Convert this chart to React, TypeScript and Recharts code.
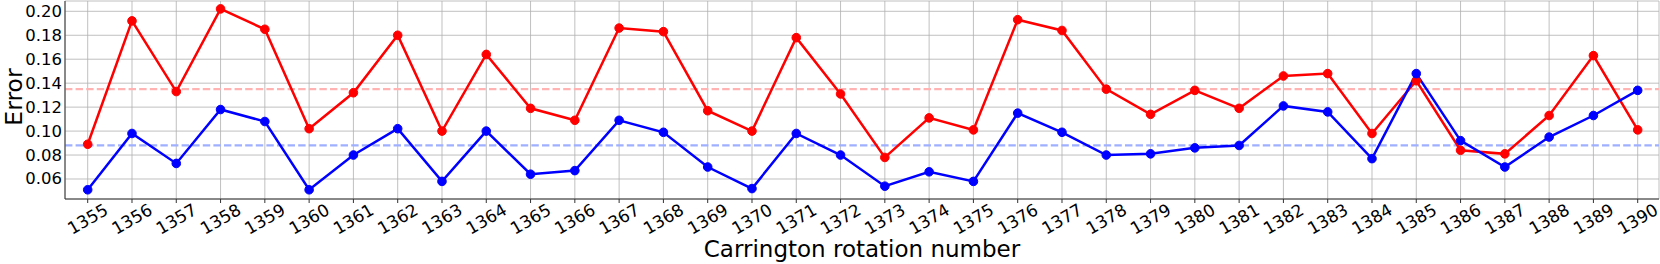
import { LineChart, Line, XAxis, YAxis, CartesianGrid, ReferenceLine, Label } from "recharts";

const rotations = [
  "1355", "1356", "1357", "1358", "1359", "1360", "1361", "1362", "1363", "1364", "1365", "1366",
  "1367", "1368", "1369", "1370", "1371", "1372", "1373", "1374", "1375", "1376", "1377", "1378",
  "1379", "1380", "1381", "1382", "1383", "1384", "1385", "1386", "1387", "1388", "1389", "1390",
];
const redErrors = [
  0.089, 0.192, 0.133, 0.202, 0.185, 0.102, 0.132, 0.180, 0.100, 0.164, 0.119, 0.109,
  0.186, 0.183, 0.117, 0.100, 0.178, 0.131, 0.078, 0.111, 0.101, 0.193, 0.184, 0.135,
  0.114, 0.134, 0.119, 0.146, 0.148, 0.098, 0.142, 0.084, 0.081, 0.113, 0.163, 0.101,
];
const blueErrors = [
  0.051, 0.098, 0.073, 0.118, 0.108, 0.051, 0.080, 0.102, 0.058, 0.100, 0.064, 0.067,
  0.109, 0.099, 0.070, 0.052, 0.098, 0.080, 0.054, 0.066, 0.058, 0.115, 0.099, 0.080,
  0.081, 0.086, 0.088, 0.121, 0.116, 0.077, 0.148, 0.092, 0.070, 0.095, 0.113, 0.134,
];
const redMean = 0.135;
const blueMean = 0.088;
const yTicks = [0.06, 0.08, 0.1, 0.12, 0.14, 0.16, 0.18, 0.2];

const FONT = "DejaVu Sans";

const chartData = rotations.map((r, i) => ({
  rotation: r,
  red: redErrors[i],
  blue: blueErrors[i],
}));

const XTick = ({ x, y, payload }: any) => {
  const cy = y + 14;
  return (
    <text
      x={x}
      y={cy}
      textAnchor="middle"
      dominantBaseline="central"
      transform={`rotate(-30, ${x}, ${cy})`}
      fontSize={17}
      fontFamily={FONT}
      fill="#000"
    >
      {payload.value}
    </text>
  );
};

const YTick = ({ y, payload }: any) => (
  <text x={62} y={y} textAnchor="end" dominantBaseline="central" fontSize={16.5} fontFamily={FONT} fill="#000">
    {payload.value.toFixed(2)}
  </text>
);

export default function App() {
  return (
    <div style={{ position: "fixed", left: 0, top: 0, width: 1660, height: 264, background: "#fff" }}>
      <LineChart width={1660} height={264} data={chartData} margin={{ top: 1, right: 1, bottom: 0, left: 0 }}>
        <CartesianGrid stroke="#b0b0b0" strokeWidth={0.8} />
        <XAxis
          dataKey="rotation"
          interval={0}
          height={65}
          padding={{ left: 22.7, right: 21.3 }}
          stroke="#333"
          tickSize={4}
          tickMargin={2}
          tick={<XTick />}
        >
          <Label
            content={() => (
              <text x={862} y={257} textAnchor="middle" fontSize={23} fontFamily={FONT} fill="#000">
                Carrington rotation number
              </text>
            )}
          />
        </XAxis>
        <XAxis xAxisId="top" dataKey="rotation" orientation="top" height={0} tick={false} tickLine={false} stroke="#333" />
        <YAxis
          domain={[0.0433, 0.2086]}
          ticks={yTicks}
          allowDataOverflow
          width={65}
          stroke="#333"
          tickLine={false}
          tick={<YTick />}
        >
          <Label
            content={() => (
              <text
                x={22}
                y={97}
                textAnchor="middle"
                transform="rotate(-90, 22, 97)"
                fontSize={23.5}
                fontFamily={FONT}
                fill="#000"
              >
                Error
              </text>
            )}
          />
        </YAxis>
        <YAxis yAxisId="right" orientation="right" width={0} tick={false} tickLine={false} stroke="#333" />
        <ReferenceLine y={redMean} stroke="#ffb3b3" strokeWidth={2.2} strokeDasharray="7.4 3.2" />
        <ReferenceLine y={blueMean} stroke="#9fb0ff" strokeWidth={2.2} strokeDasharray="7.4 3.2" />
        <Line
          dataKey="red"
          stroke="#ff0000"
          strokeWidth={2.5}
          dot={{ r: 4.3, fill: "#ff0000", stroke: "#ff0000", strokeWidth: 1 }}
          isAnimationActive={false}
        />
        <Line
          dataKey="blue"
          stroke="#0000ff"
          strokeWidth={2.5}
          dot={{ r: 4.3, fill: "#0000ff", stroke: "#0000ff", strokeWidth: 1 }}
          isAnimationActive={false}
        />
      </LineChart>
    </div>
  );
}
